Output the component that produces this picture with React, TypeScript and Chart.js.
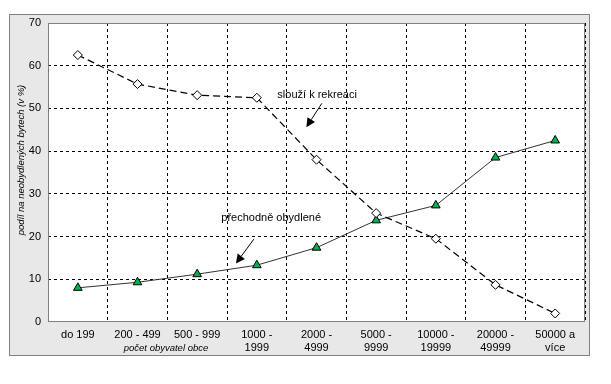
import React, { useEffect, useRef } from "react";
import { Chart, registerables } from "chart.js";

Chart.register(...registerables);

const categories: string[][] = [
  ["do 199"],
  ["200 - 499"],
  ["500 - 999"],
  ["1000 -", "1999"],
  ["2000 -", "4999"],
  ["5000 -", "9999"],
  ["10000 -", "19999"],
  ["20000 -", "49999"],
  ["50000 a", "více"],
];

const rekreaceValues = [62.5, 55.7, 53.1, 52.5, 38.0, 25.5, 19.5, 8.7, 2.0];
const obydleneValues = [8.0, 9.3, 11.2, 13.3, 17.4, 23.8, 27.3, 38.5, 42.5];

const seriesNames = ["slouží k rekreaci", "přechodně obydlené"];
const yTitle = "podíl na neobydlených bytech (v %)";
const xTitle = "počet obyvatel obce";

// annotation labels and arrows in data coordinates (category index, value)
const annotations = [
  { text: seriesNames[0], tx: 4.01, ty: 53.1, ax1: 4.09, ay1: 51.2, ax2: 3.83, ay2: 45.6 },
  { text: seriesNames[1], tx: 3.24, ty: 24.4, ax1: 2.95, ay1: 19.4, ax2: 2.65, ay2: 13.7 },
];

const FONT = "'Liberation Sans', Arial, sans-serif";

const framePlugin = {
  id: "frame",
  beforeDraw(chart: any) {
    const ctx = chart.ctx;
    const a = chart.chartArea;
    ctx.save();
    ctx.fillStyle = "#ffffff";
    ctx.fillRect(0, 0, chart.width, chart.height);
    ctx.fillStyle = "#e8e8e8";
    ctx.fillRect(9.5, 14.5, 580, 341);
    ctx.strokeStyle = "#808080";
    ctx.lineWidth = 1;
    ctx.strokeRect(9.5, 14.5, 580, 341);
    ctx.fillStyle = "#ffffff";
    ctx.fillRect(a.left, a.top, a.right - a.left, a.bottom - a.top);
    ctx.restore();
  },
  afterDatasetsDraw(chart: any) {
    const ctx = chart.ctx;
    const a = chart.chartArea;
    const xs = chart.scales.x;
    const ys = chart.scales.y;
    ctx.save();
    ctx.strokeStyle = "#808080";
    ctx.lineWidth = 1;
    ctx.strokeRect(Math.round(a.left) + 0.5, Math.round(a.top) + 0.5, Math.round(a.right - a.left) - 1, Math.round(a.bottom - a.top) - 1);

    // annotations
    ctx.font = `11px ${FONT}`;
    ctx.fillStyle = "#000";
    ctx.textAlign = "center";
    ctx.textBaseline = "middle";
    for (const an of annotations) {
      ctx.fillText(an.text, xs.getPixelForValue(an.tx), ys.getPixelForValue(an.ty));
      const x1 = xs.getPixelForValue(an.ax1);
      const y1 = ys.getPixelForValue(an.ay1);
      const x2 = xs.getPixelForValue(an.ax2);
      const y2 = ys.getPixelForValue(an.ay2);
      const ang = Math.atan2(y2 - y1, x2 - x1);
      const hl = 9;
      const hw = 4.5;
      const bx = x2 - hl * Math.cos(ang);
      const by = y2 - hl * Math.sin(ang);
      ctx.strokeStyle = "#000";
      ctx.lineWidth = 1;
      ctx.beginPath();
      ctx.moveTo(x1, y1);
      ctx.lineTo(bx, by);
      ctx.stroke();
      ctx.beginPath();
      ctx.moveTo(x2, y2);
      ctx.lineTo(bx + hw * Math.sin(ang), by - hw * Math.cos(ang));
      ctx.lineTo(bx - hw * Math.sin(ang), by + hw * Math.cos(ang));
      ctx.closePath();
      ctx.fillStyle = "#000";
      ctx.fill();
    }

    // axis titles
    ctx.fillStyle = "#000";
    ctx.font = `italic 9.5px ${FONT}`;
    ctx.textAlign = "center";
    ctx.textBaseline = "middle";
    ctx.fillText(xTitle, 166, 348);
    ctx.translate(21, 160);
    ctx.rotate(-Math.PI / 2);
    ctx.fillText(yTitle, 0, 0);
    ctx.restore();
  },
};

export default function App() {
  const ref = useRef<HTMLCanvasElement>(null);
  useEffect(() => {
    if (!ref.current) return;
    const n = categories.length;
    const chart = new Chart(ref.current, {
      type: "line",
      data: {
        labels: categories,
        datasets: [
          {
            label: seriesNames[0],
            data: rekreaceValues,
            borderColor: "#000",
            borderWidth: 1.2,
            borderDash: [7, 4],
            pointStyle: "rectRot",
            pointRadius: 4.5,
            pointBackgroundColor: "#fff",
            pointBorderColor: "#000",
            pointBorderWidth: 1,
            tension: 0,
          },
          {
            label: seriesNames[1],
            data: obydleneValues,
            borderColor: "#333",
            borderWidth: 1,
            pointStyle: "triangle",
            pointRadius: 5,
            pointBackgroundColor: "#00b050",
            pointBorderColor: "#000",
            pointBorderWidth: 1,
            tension: 0,
          },
        ],
      },
      options: {
        responsive: false,
        animation: false,
        layout: { padding: { left: 0, top: 23, right: 26, bottom: 0 } },
        plugins: { legend: { display: false }, tooltip: { enabled: false } },
        scales: {
          x: {
            type: "category",
            offset: true,
            grid: {
              offset: true,
              drawTicks: false,
              color: (c: any) => (c.index === 0 || c.index === n ? "rgba(0,0,0,0)" : "#000"),
              lineWidth: 1,
            },
            border: { display: false, dash: [3, 3] },
            ticks: {
              color: "#000",
              font: { family: FONT, size: 11, lineHeight: 1.2 },
              padding: 6,
              maxRotation: 0,
              autoSkip: false,
            },
            afterFit: (s: any) => {
              s.height = 62;
            },
          },
          y: {
            min: 0,
            max: 70,
            ticks: {
              stepSize: 10,
              color: "#000",
              font: { family: FONT, size: 11 },
              padding: 7,
            },
            grid: {
              drawTicks: false,
              color: (c: any) => (c.tick && (c.tick.value === 0 || c.tick.value === 70) ? "rgba(0,0,0,0)" : "#000"),
              lineWidth: 1,
            },
            border: { display: false, dash: [3, 3] },
            afterFit: (s: any) => {
              s.width = 48;
            },
          },
        },
      },
      plugins: [framePlugin],
    });
    return () => chart.destroy();
  }, []);
  return (
    <div style={{ position: "absolute", left: 0, top: 0, width: 611, height: 384 }}>
      <canvas ref={ref} width={611} height={384} />
    </div>
  );
}
